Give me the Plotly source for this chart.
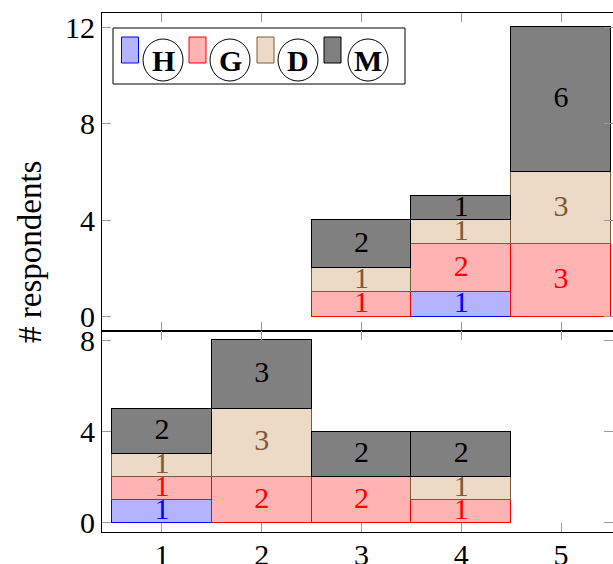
import plotly.graph_objects as go
from plotly.subplots import make_subplots

categories = [1, 2, 3, 4, 5]
series_names = ["H", "G", "D", "M"]

top_H = [0, 0, 0, 1, 0]
top_G = [0, 0, 1, 2, 3]
top_D = [0, 0, 1, 1, 3]
top_M = [0, 0, 2, 1, 6]

bot_H = [1, 0, 0, 0, 0]
bot_G = [1, 2, 2, 1, 0]
bot_D = [1, 3, 0, 1, 0]
bot_M = [2, 3, 2, 2, 0]

top_ticks = [0, 4, 8, 12]
bot_ticks = [0, 4, 8]
y_title = "# respondents"

fills = {"H": "#b3b3ff", "G": "#ffb3b3", "D": "#ecd9c6", "M": "#808080"}
lines = {"H": "#0000ff", "G": "#ff0000", "D": "#7a5a3a", "M": "#000000"}
textc = {"H": "#0000ff", "G": "#ff0000", "D": "#7a5a3a", "M": "#000000"}

FONT = "Liberation Serif"
FS = 30

W, H = 613, 564
ML, MR, MT, MB = 102, 0, 13, 32
PW, PH = W - ML - MR, H - MT - MB

fig = make_subplots(rows=2, cols=1, shared_xaxes=True, vertical_spacing=0,
                    row_heights=[318 / PH, 1 - 318 / PH])

panels = [
    (1, {"H": top_H, "G": top_G, "D": top_D, "M": top_M}),
    (2, {"H": bot_H, "G": bot_G, "D": bot_D, "M": bot_M}),
]

for row, data in panels:
    base = [0] * len(categories)
    for name in series_names:
        vals = data[name]
        fig.add_trace(go.Bar(
            x=categories, y=[v if v > 0 else None for v in vals], width=1,
            name=name, showlegend=False,
            marker=dict(color=fills[name], line=dict(color=lines[name], width=1)),
            hoverinfo="skip",
        ), row=row, col=1)
        xs, ys, ts = [], [], []
        for i, v in enumerate(vals):
            if v > 0:
                xs.append(categories[i])
                ys.append(base[i] + v / 2)
                ts.append(str(v))
            base[i] += v
        fig.add_trace(go.Scatter(
            x=xs, y=ys, text=ts, mode="text", showlegend=False,
            textposition="middle center", cliponaxis=False,
            textfont=dict(family=FONT, size=FS, color=textc[name]),
            hoverinfo="skip",
        ), row=row, col=1)

axis_common = dict(showgrid=False, zeroline=False, showline=True, linecolor="black",
                   linewidth=1, mirror="allticks", ticks="inside", ticklen=9,
                   tickcolor="#9a9a9a", tickwidth=1, automargin=False,
                   tickfont=dict(family=FONT, size=FS, color="black"))

fig.update_xaxes(range=[0.4, 5.52], tickvals=categories, **axis_common)
fig.update_xaxes(showticklabels=False, row=1, col=1)
fig.update_xaxes(ticklabelstandoff=-4, row=2, col=1)
fig.update_yaxes(range=[-0.6, 12.6], tickvals=top_ticks, row=1, col=1, **axis_common)
fig.update_yaxes(range=[-0.4, 8.4], tickvals=bot_ticks, row=2, col=1, **axis_common)

fig.update_layout(barmode="stack", bargap=0, width=W, height=H,
                  margin=dict(l=ML, r=MR, t=MT, b=MB, autoexpand=False),
                  plot_bgcolor="white", paper_bgcolor="white",
                  font=dict(family=FONT, size=FS, color="black"))


def px(xp):
    return (xp - ML) / PW


def py(yp):
    return (H - MB - yp) / PH


# y axis title
fig.add_annotation(text=y_title, x=px(30), y=py(252), xref="paper", yref="paper",
                   textangle=-90, showarrow=False, xanchor="center", yanchor="middle",
                   font=dict(family=FONT, size=33, color="black"))

# custom legend
shapes = []
shapes.append(dict(type="rect", xref="paper", yref="paper",
                   x0=px(113), x1=px(405), y0=py(84), y1=py(28),
                   line=dict(color="black", width=1), fillcolor="white", layer="above"))
sw_x = [121.5, 189, 257, 324]
circ_x = [163, 230, 298, 368]
for k, name in enumerate(series_names):
    shapes.append(dict(type="rect", xref="paper", yref="paper",
                       x0=px(sw_x[k]), x1=px(sw_x[k] + 17), y0=py(63), y1=py(37),
                       line=dict(color=lines[name], width=1), fillcolor=fills[name],
                       layer="above"))
    shapes.append(dict(type="circle", xref="paper", yref="paper",
                       x0=px(circ_x[k] - 20), x1=px(circ_x[k] + 20),
                       y0=py(81), y1=py(39),
                       line=dict(color="black", width=1), fillcolor="rgba(0,0,0,0)",
                       layer="above"))
    fig.add_annotation(text="<b>" + name + "</b>", x=px(circ_x[k]), y=py(60),
                       xref="paper", yref="paper", showarrow=False,
                       xanchor="center", yanchor="middle",
                       font=dict(family=FONT, size=FS, color="black"))
fig.update_layout(shapes=shapes)

fig.write_html("out.html", config={"displayModeBar": False},
               post_script="document.body.style.margin='0';document.body.style.padding='0';")
